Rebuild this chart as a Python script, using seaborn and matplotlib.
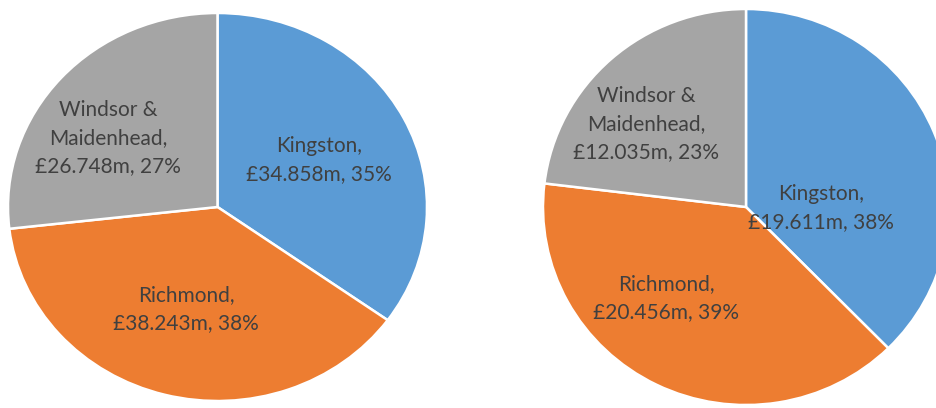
import matplotlib
matplotlib.use("Agg")
import matplotlib.pyplot as plt
import seaborn as sns

# Council contributions (£m) for the two pies
boroughs = ["Kingston", "Richmond", "Windsor &\nMaidenhead"]
left_values = [34.858, 38.243, 26.748]
right_values = [19.611, 20.456, 12.035]

sns.set_theme(style="white")
plt.rcParams["font.family"] = ["Lato", "DejaVu Sans"]

palette = sns.color_palette(["#5B9BD5", "#ED7D31", "#A5A5A5"])
text_color = "#404040"

fig = plt.figure(figsize=(9.36, 4.08), dpi=100)
W, H = 936, 408


def axes_px(x0, y0, w, h):
    """Axes rectangle from pixel box (top-left origin)."""
    return fig.add_axes([x0 / W, (H - y0 - h) / H, w / W, h / H])


ax_left = axes_px(8, 13, 419, 388)
ax_right = axes_px(543, 9, 406, 396)

# label anchors in normalised pie coordinates (radius = 1)
left_label_xy = [(0.484, 0.242), (-0.150, -0.526), (-0.523, 0.356)]
right_label_xy = [(0.369, -0.005), (-0.394, -0.460), (-0.493, 0.419)]


def draw_pie(ax, values, label_xy):
    ax.pie(values, colors=palette, startangle=90, counterclock=False,
           radius=1.0, wedgeprops=dict(edgecolor="white", linewidth=1.8))
    ax.set_aspect("auto")
    ax.set_xlim(-1, 1)
    ax.set_ylim(-1, 1)
    ax.axis("off")
    total = sum(values)
    for name, v, (x, y) in zip(boroughs, values, label_xy):
        pct = round(100 * v / total)
        ax.text(x, y, f"{name},\n£{v:.3f}m, {pct}%", ha="center", va="center",
                fontsize=15, color=text_color, linespacing=1.5)


draw_pie(ax_left, left_values, left_label_xy)
draw_pie(ax_right, right_values, right_label_xy)

fig.savefig("out.png", dpi=100)
